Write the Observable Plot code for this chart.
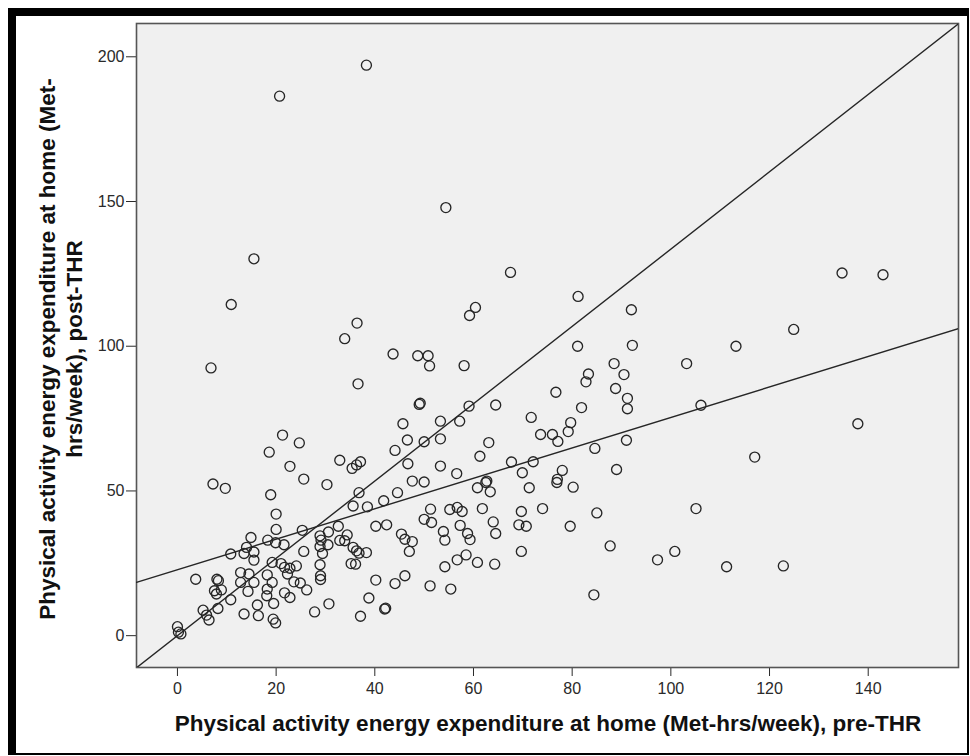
<!DOCTYPE html>
<html>
<head>
<meta charset="utf-8">
<script src="https://cdn.jsdelivr.net/npm/d3@7"></script>
<script src="https://cdn.jsdelivr.net/npm/@observablehq/plot@0.6"></script>
<style>
  html, body { margin: 0; padding: 0; background: #ffffff; }
  #wrap { position: relative; width: 970px; height: 756px; overflow: hidden; }
  #chart { position: absolute; left: 0; top: 0; }
  #border { position: absolute; left: 8px; top: 8px; width: 961px; height: 747px; box-sizing: border-box;
            border-left: 8px solid #000; border-top: 8px solid #000; border-right: 2px solid #000; border-bottom: 2px solid #000;
            pointer-events: none; }
</style>
</head>
<body>
<div id="wrap"><div id="chart"></div><div id="border"></div></div>
<script>
// Pre-THR values (x) and post-THR values (y), Met-hrs/week
const preTHR = [
  21.3,24.7,18.6,22.8,25.6,30.3,7.2,9.7,18.9,20.0,
  20.0,14.9,18.3,19.9,21.6,25.3,14.0,15.5,13.5,10.8,
  15.5,19.2,21.0,25.6,28.9,29.1,28.9,29.4,28.9,29.0,
  29.0,30.6,21.7,22.8,24.1,22.3,23.6,24.9,26.2,21.7,
  22.8,12.8,14.5,12.8,15.5,14.3,18.2,19.2,18.2,18.1,
  19.5,16.2,13.5,16.4,19.4,19.9,27.8,30.7,3.7,8.0,
  8.3,7.5,7.9,8.9,10.8,8.2,5.2,5.9,6.4,0.0,
  0.2,0.7,
  36.6,49.0,49.2,59.1,64.5,45.7,53.3,57.2,46.6,50.0,
  53.3,44.1,63.1,61.3,32.9,35.4,36.3,37.1,46.7,53.3,
  56.6,47.6,50.0,44.6,36.8,62.5,62.7,60.8,63.4,35.6,
  38.5,41.8,51.3,55.2,56.7,57.7,61.8,50.0,51.5,57.3,
  64.0,64.5,40.2,42.4,32.6,34.4,32.9,33.9,30.5,45.4,
  46.1,47.6,47.0,53.9,54.2,58.8,59.3,35.6,36.3,36.8,
  38.3,35.2,36.1,40.2,44.1,46.1,51.2,55.4,54.2,56.7,
  58.5,60.8,64.3,38.8,42.0,42.2,37.1,
  76.7,82.8,88.8,91.2,91.2,81.9,71.7,79.7,79.2,73.6,
  76.0,77.1,91.0,84.6,67.7,72.1,78.0,89.0,69.9,77.0,
  76.9,71.3,80.2,74.0,69.7,85.0,69.2,70.7,79.6,87.7,
  69.7,97.3,100.8,84.4,
  81.2,92.0,81.1,92.2,88.5,90.5,83.3,134.7,143.0,
  103.2,113.2,124.9,106.1,137.9,117.0,105.1,111.3,122.8,
  38.3,20.7,54.4,15.5,67.5,10.9,60.4,59.2,36.4,33.9,43.7,48.7,50.8,51.1,58.1,6.8
];
const postTHR = [
  69.3,66.6,63.4,58.5,54.1,52.2,52.4,50.9,48.7,42.0,
  36.7,33.9,33.0,32.1,31.4,36.4,30.5,28.9,28.4,28.2,
  26.1,25.3,24.9,29.1,34.5,33.0,30.8,28.4,24.5,20.7,
  19.4,35.8,23.6,23.3,24.1,21.3,18.6,18.2,15.8,14.8,
  13.2,21.8,21.3,18.4,18.4,15.3,21.0,18.4,16.1,13.8,
  11.1,10.6,7.5,6.9,5.7,4.4,8.2,11.0,19.5,19.5,
  19.0,15.5,14.4,15.8,12.4,9.4,8.8,7.1,5.4,3.1,
  1.2,0.6,
  87.0,79.9,80.3,79.3,79.7,73.2,74.1,74.1,67.6,67.0,
  68.0,64.0,66.7,62.0,60.6,57.8,59.0,60.1,59.4,58.6,
  56.0,53.4,53.1,49.4,49.4,52.9,53.4,51.1,49.7,44.8,
  44.5,46.6,43.7,43.6,44.3,42.9,43.9,40.2,39.1,38.1,
  39.3,35.3,37.8,38.3,37.8,34.8,32.9,32.8,31.4,35.1,
  33.3,32.5,29.1,36.0,33.0,35.3,33.2,30.5,29.3,28.5,
  28.7,24.9,24.7,19.2,18.0,20.7,17.2,16.1,23.8,26.2,
  27.9,25.3,24.7,13.0,9.2,9.5,6.7,
  84.1,87.7,85.4,82.0,78.4,78.8,75.4,73.6,70.5,69.5,
  69.5,67.1,67.5,64.7,60.0,60.1,57.1,57.4,56.3,54.0,
  52.9,51.1,51.3,43.9,42.9,42.4,38.3,37.8,37.8,31.0,
  29.1,26.2,29.1,14.1,
  117.2,112.6,100.0,100.3,94.0,90.2,90.4,125.3,124.7,
  94.0,100.0,105.8,79.6,73.2,61.7,43.9,23.8,24.1,
  197.1,186.4,147.9,130.2,125.5,114.4,113.4,110.6,108.0,102.6,97.3,96.7,96.7,93.2,93.3,92.5
];
const xTicks = [0, 20, 40, 60, 80, 100, 120, 140];
const yTicks = [0, 50, 100, 150, 200];
const xDomain = [-8.3, 158.3];
const yDomain = [-11, 211.5];
// Lines
const fitIntercept = 22.8, fitSlope = 0.526;   // fit line
const refSlope = 1.3355;                        // reference line through origin
const xTitle = "Physical activity energy expenditure at home (Met-hrs/week), pre-THR";
const yTitleLines = ["Physical activity energy expenditure at home (Met-", "hrs/week), post-THR"];

const points = preTHR.map((x, i) => ({x, y: postTHR[i]}));
const fitLine = xDomain.map(x => ({x, y: fitIntercept + fitSlope * x}));
const refLine = xDomain.map(x => ({x, y: refSlope * x}));

const chart = Plot.plot({
  width: 970,
  height: 756,
  marginLeft: 136,
  marginRight: 12,
  marginTop: 23,
  marginBottom: 89,
  style: {background: "transparent", fontFamily: "'Liberation Sans', Arial, sans-serif", fontSize: "16px", color: "#2a2a2a"},
  x: {domain: xDomain, ticks: xTicks, tickSize: 9, tickPadding: 6, label: null, tickFormat: d => String(d)},
  y: {domain: yDomain, ticks: yTicks, tickSize: 10, tickPadding: 2, label: null, tickFormat: d => String(d)},
  marks: [
    Plot.frame({fill: "#f0f0f0", stroke: "#555", strokeWidth: 1.6}),
    Plot.line(refLine, {x: "x", y: "y", stroke: "#262626", strokeWidth: 1.4, clip: true}),
    Plot.line(fitLine, {x: "x", y: "y", stroke: "#262626", strokeWidth: 1.4, clip: true}),
    Plot.dot(points, {x: "x", y: "y", r: 5, stroke: "#262626", strokeWidth: 1.35, fill: "none"})
  ]
});
document.getElementById("chart").appendChild(chart);

const svg = d3.select(chart);
svg.append("text")
  .attr("x", 548).attr("y", 731)
  .attr("text-anchor", "middle")
  .attr("font-family", "'Liberation Sans', Arial, sans-serif")
  .attr("font-weight", "bold").attr("font-size", 22.5).attr("fill", "#111")
  .text(xTitle);
const yt = [55, 81.5];
yTitleLines.forEach((t, i) => {
  svg.append("text")
    .attr("transform", `translate(${yt[i]},349) rotate(-90)`)
    .attr("text-anchor", "middle")
    .attr("font-family", "'Liberation Sans', Arial, sans-serif")
    .attr("font-weight", "bold").attr("font-size", 22.5).attr("fill", "#111")
    .text(t);
});
</script>
</body>
</html>
